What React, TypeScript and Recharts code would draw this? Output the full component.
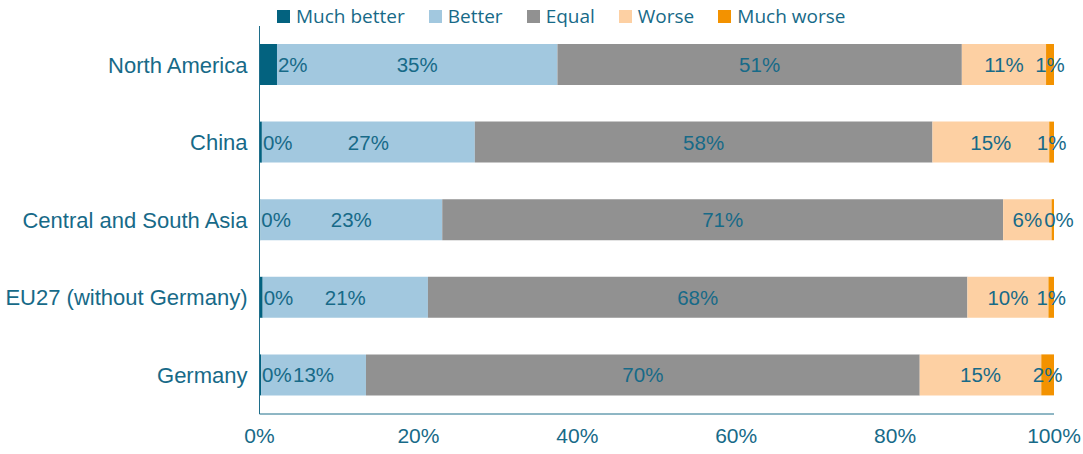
import React from "react";
import { BarChart, Bar, XAxis, YAxis, Legend, LabelList } from "recharts";

const categories = ["North America", "China", "Central and South Asia", "EU27 (without Germany)", "Germany"];
const muchBetter = [2.2, 0.3, 0.1, 0.4, 0.2];
const better = [35.3, 26.8, 22.9, 20.8, 13.2];
const equal = [50.9, 57.6, 70.6, 67.9, 69.7];
const worse = [10.6, 14.7, 6.1, 10.2, 15.3];
const muchWorse = [1.0, 0.6, 0.3, 0.7, 1.6];
const xTicks = [0, 20, 40, 60, 80, 100];

const seriesNames = ["Much better", "Better", "Equal", "Worse", "Much worse"];
const seriesKeys = ["muchBetter", "better", "equal", "worse", "muchWorse"];
const colors = ["#03627f", "#a2c8df", "#919191", "#fdd0a3", "#f39200"];
const TEXT = "#176a88";
const LABEL_FS = 20.5;

const data = categories.map((c, i) => ({
  name: c,
  muchBetter: muchBetter[i],
  better: better[i],
  equal: equal[i],
  worse: worse[i],
  muchWorse: muchWorse[i],
}));

const textWidth = (s: string) => {
  let w = 0;
  for (const ch of s) w += ch === "%" ? 0.889 : 0.556;
  return w * LABEL_FS;
};

const makeLabel = (mode: "start" | "center" | "last") => (props: any) => {
  const { x, y, width, height, value, index } = props;
  const txt = `${Math.round(value)}%`;
  let tx = x + width / 2;
  let anchor = "middle";
  if (mode === "start") {
    tx = x + width + 1;
    anchor = "start";
  } else if (mode === "last" && value > 0) {
    const ppu = width / value;
    const wv = worse[index];
    const prevTxt = `${Math.round(wv)}%`;
    const prevEnd = x - (wv * ppu) / 2 + textWidth(prevTxt) / 2;
    const myStart = tx - textWidth(txt) / 2;
    if (myStart < prevEnd + 2) tx = prevEnd + 2 + textWidth(txt) / 2;
  }
  return (
    <text
      x={tx}
      y={y + height / 2}
      textAnchor={anchor}
      dominantBaseline="central"
      fill={TEXT}
      fontSize={LABEL_FS}
      fontFamily="'Liberation Sans', Arial, sans-serif"
    >
      {txt}
    </text>
  );
};

const LegendContent = () => (
  <div
    style={{
      display: "flex",
      alignItems: "center",
      paddingLeft: 277,
      height: 32,
      fontFamily: "'Open Sans', sans-serif",
      fontSize: 19,
      color: TEXT,
    }}
  >
    {seriesNames.map((n, i) => (
      <div key={n} style={{ display: "flex", alignItems: "center", marginRight: 24 }}>
        <span style={{ display: "inline-block", width: 13, height: 13, background: colors[i], marginRight: 6 }} />
        <span style={{ lineHeight: "20px" }}>{n}</span>
      </div>
    ))}
  </div>
);

export default function App() {
  return (
    <div>
      <style>{`body{margin:0}`}</style>
      <BarChart
        width={1083}
        height={454}
        data={data}
        layout="vertical"
        margin={{ top: 26, right: 29, bottom: 0, left: 0 }}
      >
        <XAxis
          type="number"
          domain={[0, 100]}
          ticks={xTicks}
          tickFormatter={(v: number) => `${v}%`}
          height={40}
          tickLine={false}
          tickSize={0}
          tickMargin={14}
          axisLine={{ stroke: "#1f6e8a", strokeWidth: 1 }}
          tick={{ fill: TEXT, fontSize: 21, fontFamily: "'Liberation Sans', Arial, sans-serif" }}
          interval={0}
        />
        <YAxis
          type="category"
          dataKey="name"
          width={259.5}
          tickLine={false}
          tickSize={0}
          tickMargin={12}
          axisLine={{ stroke: "#1f6e8a", strokeWidth: 1 }}
          tick={{ fill: TEXT, fontSize: 22, fontFamily: "'Liberation Sans', Arial, sans-serif" }}
          interval={0}
        />
        <Legend
          layout="horizontal"
          verticalAlign="middle"
          align="center"
          content={LegendContent}
          wrapperStyle={{ top: 0, left: 0, width: 1083 }}
        />
        {seriesKeys.map((k, i) => (
          <Bar key={k} dataKey={k} name={seriesNames[i]} stackId="a" fill={colors[i]} barSize={41} isAnimationActive={false}>
            <LabelList
              dataKey={k}
              content={makeLabel(i === 0 ? "start" : i === seriesKeys.length - 1 ? "last" : "center")}
            />
          </Bar>
        ))}
      </BarChart>
    </div>
  );
}
